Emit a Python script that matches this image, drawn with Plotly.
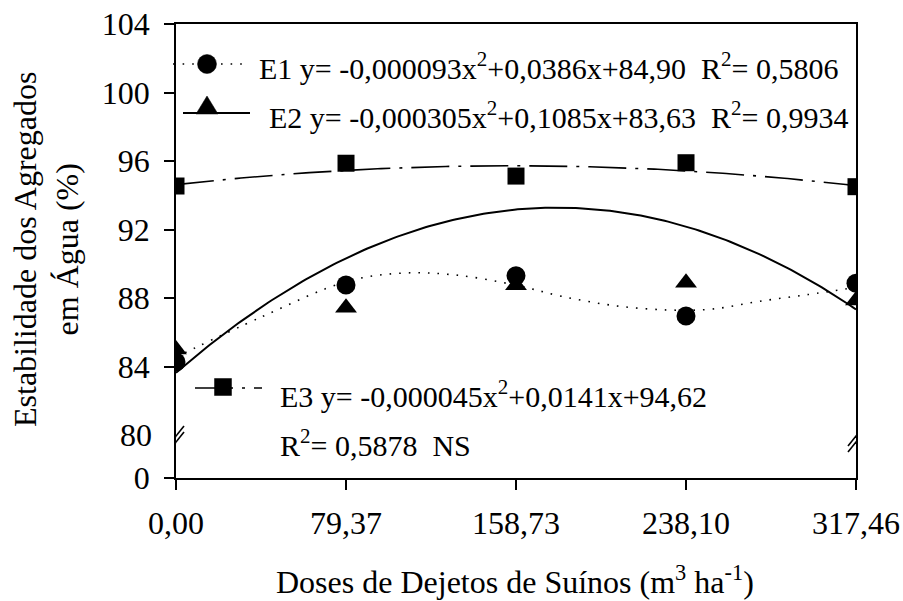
import numpy as np
import plotly.graph_objects as go

# Doses of swine manure (m3/ha) and their tick labels
doses = [0.0, 79.37, 158.73, 238.10, 317.46]
dose_labels = ["0,00", "79,37", "158,73", "238,10", "317,46"]

# Water-stable aggregates (%) per sampling period
e1_obs = [84.26, 88.76, 89.30, 86.95, 88.86]
e2_obs = [85.00, 87.43, 88.75, 88.89, 87.86]
e3_obs = [94.54, 95.87, 95.12, 95.90, 94.50]

# E1 trend line nodes (smoothed)
e1_trend_x = [0, 40, 79.37, 105, 130, 158.73, 180, 205, 230, 250, 272, 295, 317.46]
e1_trend_y = [84.55, 86.9, 88.95, 89.45, 89.35, 88.75, 88.1, 87.55, 87.3, 87.35, 87.8, 88.2, 88.62]

# Quadratic regression coefficients (a, b, c): y = a x^2 + b x + c
e2_coef = (-0.000305, 0.1085, 83.63)
e3_coef = (-0.000045, 0.0141, 94.62)

# Y axis: broken between 0 and 80
y_tick_vals = [84, 88, 92, 96, 100, 104]
y_zero_pos = 77.49   # axis bottom, labelled "0"
y_break = 80

FONT = "Liberation Serif"
TICK_SIZE = 32
TITLE_SIZE = 32
EQ_SIZE = 30
W, H = 903, 601
L, R, T, B = 176, 47, 24, 123
PW, PH = W - L - R, H - T - B


def px(x):
    return (x - L) / PW


def py(y):
    return (H - B - y) / PH


xs = np.linspace(0, doses[-1], 200)


def quad(c):
    return c[0] * xs ** 2 + c[1] * xs + c[2]


fig = go.Figure()

# Trend lines
fig.add_trace(go.Scatter(x=e1_trend_x, y=e1_trend_y, mode="lines", line_shape="spline",
                         line=dict(color="black", width=1.6, dash="1.6px,8px"),
                         hoverinfo="skip", showlegend=False))
fig.add_trace(go.Scatter(x=xs, y=quad(e2_coef), mode="lines",
                         line=dict(color="black", width=2), hoverinfo="skip", showlegend=False))
fig.add_trace(go.Scatter(x=xs, y=quad(e3_coef), mode="lines",
                         line=dict(color="black", width=1.6, dash="38px,9px,3px,9px"),
                         hoverinfo="skip", showlegend=False))

# Observed points
fig.add_trace(go.Scatter(x=doses, y=e3_obs, mode="markers", name="E3",
                         marker=dict(symbol="square", size=17, color="black"), showlegend=False))
fig.add_trace(go.Scatter(x=doses, y=e2_obs, mode="markers", name="E2",
                         marker=dict(symbol="triangle-up", size=19, color="black"), showlegend=False))
fig.add_trace(go.Scatter(x=doses, y=e1_obs, mode="markers", name="E1",
                         marker=dict(symbol="circle", size=19, color="black"), showlegend=False))

shapes = []
# Axis break marks (left and right)
for xa in (0, doses[-1]):
    for off in (0, -6):
        shapes.append(dict(type="line", xref="x", yref="y", xsizemode="pixel", ysizemode="pixel",
                           xanchor=xa, yanchor=y_break, x0=-8, x1=8, y0=-11 + off, y1=9 + off,
                           line=dict(color="black", width=1.6)))


# Legend keys
def key_line(x0, x1, y, dash, width=1.6):
    shapes.append(dict(type="line", xref="paper", yref="paper", x0=px(x0), x1=px(x1),
                       y0=py(y), y1=py(y), line=dict(color="black", width=width, dash=dash)))


def key_path(x, y, path):
    shapes.append(dict(type="path", xref="paper", yref="paper", xsizemode="pixel", ysizemode="pixel",
                       xanchor=px(x), yanchor=py(y), path=path,
                       fillcolor="black", line=dict(color="black", width=0.5)))


def key_circle(x, y, r):
    shapes.append(dict(type="circle", xref="paper", yref="paper", xsizemode="pixel", ysizemode="pixel",
                       xanchor=px(x), yanchor=py(y), x0=-r, x1=r, y0=-r, y1=r,
                       fillcolor="black", line=dict(color="black", width=0.5)))


tri_path = "M -11,-6 L 11,-6 L 0,12 Z"
sq_path = "M -8.5,-8.5 L 8.5,-8.5 L 8.5,8.5 L -8.5,8.5 Z"

key_line(173, 242, 64, "1.6px,8px")
key_circle(207, 64, 9.5)
key_line(183, 250, 113, "solid", 2)
key_path(207, 108, tri_path)
key_line(195, 262, 388, "38px,9px,3px,9px")
key_path(223, 387, sq_path)

anns = []
texts = [
    (257, 66, "E1 y= -0,000093x<sup>2</sup>+0,0386x+84,90  R<sup>2</sup>= 0,5806"),
    (267, 115, "E2 y= -0,000305x<sup>2</sup>+0,1085x+83,63  R<sup>2</sup>= 0,9934"),
    (278, 394, "E3 y= -0,000045x<sup>2</sup>+0,0141x+94,62"),
    (278, 443, "R<sup>2</sup>= 0,5878  NS"),
]
for x, y, t in texts:
    anns.append(dict(xref="paper", yref="paper", x=px(x), y=py(y), text=t, showarrow=False,
                     xanchor="left", yanchor="middle", font=dict(family=FONT, size=EQ_SIZE, color="black")))

# Label for the 80 level at the break
anns.append(dict(xref="paper", yref="y", x=0, y=y_break, text="80", showarrow=False,
                 xanchor="right", yanchor="middle", xshift=-22,
                 font=dict(family=FONT, size=TICK_SIZE, color="black")))

# Axis titles
anns.append(dict(xref="paper", yref="paper", x=px(46), y=py(250), textangle=-90,
                 text="Estabilidade dos Agregados<br>em Água (%)", showarrow=False,
                 xanchor="center", yanchor="middle", font=dict(family=FONT, size=TITLE_SIZE, color="black")))
anns.append(dict(xref="paper", yref="paper", x=px(515), y=py(580),
                 text="Doses de Dejetos de Suínos (m<sup>3</sup> ha<sup>-1</sup>)", showarrow=False,
                 xanchor="center", yanchor="middle", font=dict(family=FONT, size=TITLE_SIZE, color="black")))

fig.update_layout(
    width=W, height=H, margin=dict(l=L, r=R, t=T, b=B, autoexpand=False),
    paper_bgcolor="white", plot_bgcolor="white",
    font=dict(family=FONT, size=TICK_SIZE, color="black"),
    shapes=shapes, annotations=anns, showlegend=False,
    xaxis=dict(range=[0, doses[-1]], tickvals=doses, ticktext=dose_labels,
               ticks="outside", ticklen=10, tickwidth=1.5, tickcolor="black",
               showline=True, linecolor="black", linewidth=1.5, mirror=True,
               showgrid=False, zeroline=False, ticklabelstandoff=6, automargin=False,
               tickfont=dict(family=FONT, size=TICK_SIZE, color="black")),
    yaxis=dict(range=[y_zero_pos, 104], tickvals=[y_zero_pos] + y_tick_vals,
               ticktext=["0"] + [str(v) for v in y_tick_vals],
               ticks="outside", ticklen=10, tickwidth=1.5, tickcolor="black",
               showline=True, linecolor="black", linewidth=1.5, mirror=True,
               showgrid=False, zeroline=False, ticklabelstandoff=8, automargin=False,
               tickfont=dict(family=FONT, size=TICK_SIZE, color="black")),
)

fig.write_html("out.html")
